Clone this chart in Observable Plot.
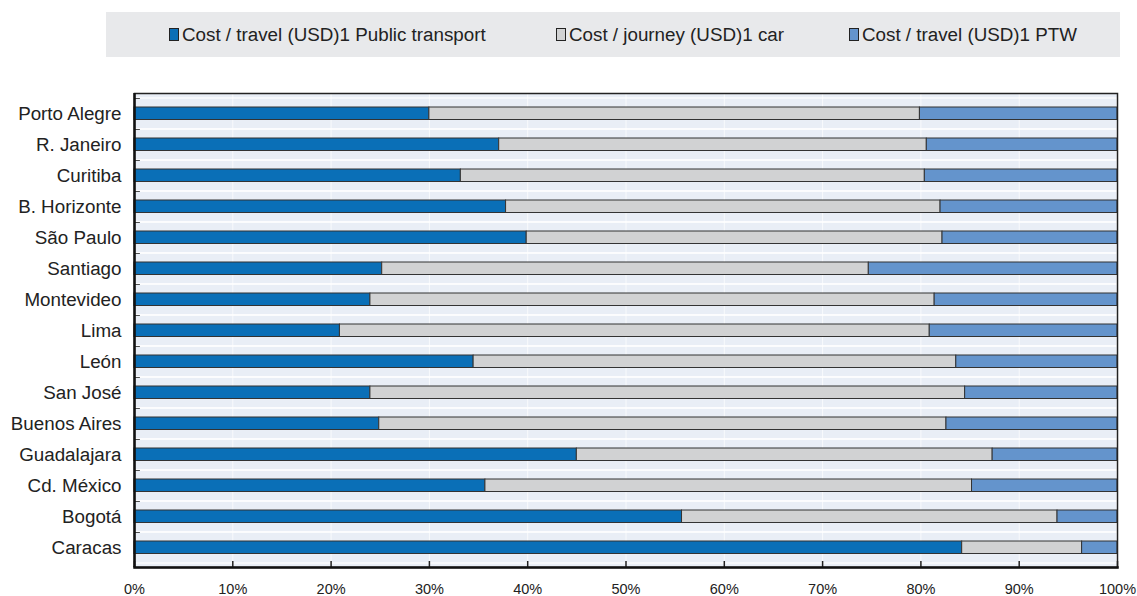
<!DOCTYPE html>
<html>
<head>
<meta charset="utf-8">
<script src="https://cdn.jsdelivr.net/npm/d3@7"></script>
<script src="https://cdn.jsdelivr.net/npm/@observablehq/plot@0.6"></script>
<style>
  body { margin: 0; background: #fff; font-family: "Liberation Sans", Arial, sans-serif; }
  #wrap { position: relative; width: 1137px; height: 596px; }
  #chart { position: absolute; left: 0; top: 0; }
  #chart svg { display: block; }
  #legend { position: absolute; left: 106px; top: 12px; width: 1014px; height: 45px; background: #e8e9eb; }
  .item { position: absolute; top: 0; height: 45px; display: flex; align-items: center; font-size: 18.8px; color: #222; white-space: nowrap; }
  .sw { width: 10px; height: 13px; border: 1px solid #222; margin-right: 3px; box-sizing: border-box; }
</style>
</head>
<body>
<div id="wrap">
  <div id="chart"></div>
  <div id="legend"></div>
</div>
<script>
const cities = ["Porto Alegre","R. Janeiro","Curitiba","B. Horizonte","São Paulo","Santiago","Montevideo","Lima","León","San José","Buenos Aires","Guadalajara","Cd. México","Bogotá","Caracas"];
const series = ["Cost / travel (USD)1 Public transport","Cost / journey (USD)1 car","Cost / travel (USD)1 PTW"];
const colors = ["#0a6fb7","#d1d2d3","#6494cc"];
// shares in percent
const publicTransport = [30.0, 37.1, 33.2, 37.8, 39.9, 25.2, 24.0, 20.9, 34.5, 24.0, 24.9, 45.0, 35.7, 55.7, 84.2];
const car = [49.9, 43.5, 47.2, 44.2, 42.3, 49.5, 57.4, 60.0, 49.1, 60.5, 57.7, 42.3, 49.5, 38.2, 12.2];
const ptw = [20.1, 19.4, 19.6, 18.0, 17.8, 25.3, 18.6, 19.1, 16.4, 15.5, 17.4, 12.7, 14.8, 6.1, 3.6];
const xTicks = [0,10,20,30,40,50,60,70,80,90,100];

const legendOffsets = [63, 450, 743];
const legend = document.getElementById("legend");
series.forEach((s, i) => {
  const it = document.createElement("div");
  it.className = "item";
  it.style.left = legendOffsets[i] + "px";
  const sw = document.createElement("span");
  sw.className = "sw";
  sw.style.background = colors[i];
  it.appendChild(sw);
  it.appendChild(document.createTextNode(s));
  legend.appendChild(it);
});

const valuesBySeries = [publicTransport, car, ptw];
const data = [];
cities.forEach((c, ci) => {
  series.forEach((s, si) => data.push({city: c, series: s, value: valuesBySeries[si][ci]}));
});

const font = "'Liberation Sans', Arial, sans-serif";
const chart = Plot.plot({
  width: 1137,
  height: 596,
  marginLeft: 134,
  marginRight: 20,
  marginTop: 93,
  marginBottom: 29,
  style: {fontFamily: font, color: "#222", background: "transparent"},
  x: {domain: [0, 100]},
  y: {domain: cities, padding: 0},
  color: {domain: series, range: colors},
  marks: [
    Plot.frame({fill: "#e9eef6", stroke: null}),
    Plot.gridX(xTicks, {stroke: "#ffffff", strokeOpacity: 0.7, strokeWidth: 1}),
    Plot.barX(cities, {x1: 0, x2: 100, y: d => d, fill: "none", stroke: "#ffffff", strokeWidth: 1.2}),
    Plot.barX(data, Plot.stackX({x: "value", y: "city", fill: "series", stroke: "#333", strokeWidth: 1, insetTop: 9, insetBottom: 9.5})),
    Plot.barX(cities, {x1: 0, x2: 0.6, y: d => d, fill: "#222", insetBottom: 30.2}),
    Plot.ruleX(xTicks, {x: d => d, stroke: "#222", strokeWidth: 1.5, insetTop: 468}),
    Plot.frame({stroke: "#222", strokeWidth: 1.5}),
    Plot.ruleX([0], {stroke: "#111", strokeWidth: 2.5}),
    Plot.frame({anchor: "bottom", stroke: "#111", strokeWidth: 2.5}),
    Plot.axisY({tickSize: 0, tickPadding: 13, fontSize: 18.8, label: null}),
    Plot.axisX({ticks: xTicks, tickFormat: d => d + "%", tickSize: 0, tickPadding: 16, fontSize: 14.5, label: null})
  ]
});
document.getElementById("chart").appendChild(chart);
</script>
</body>
</html>
